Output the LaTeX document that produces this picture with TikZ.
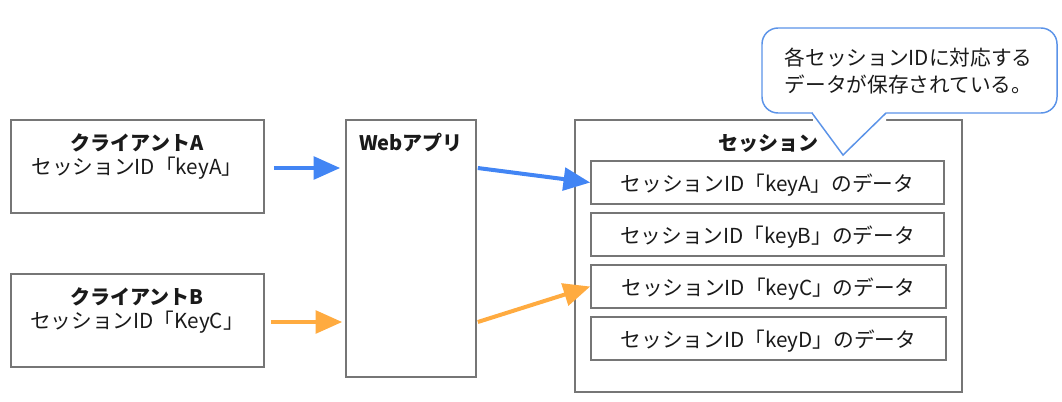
\documentclass[tikz,border=0pt]{standalone}
\usepackage{fontspec}
\setmainfont{Noto Sans CJK JP}
\usetikzlibrary{arrows.meta,calc}
\definecolor{boxgray}{HTML}{767676}
\definecolor{arrblue}{HTML}{4285F4}
\definecolor{arrorange}{HTML}{FFAB40}
\definecolor{callblue}{HTML}{5B93E8}
\definecolor{txt}{HTML}{1A1A1A}
\begin{document}
\begin{tikzpicture}[x=0.75pt,y=-0.75pt,
  every node/.style={font=\fontsize{15.5pt}{20pt}\selectfont,text=txt},
  frame/.style={draw=boxgray,line width=1.2pt,fill=white,inner sep=0pt},
  ttl/.style={font=\bfseries\fontsize{15pt}{20pt}\selectfont},
  bluearr/.style={draw=arrblue,line width=3pt,-{Triangle[length=20pt,width=17pt]}},
  orangearr/.style={draw=arrorange,line width=3pt,-{Triangle[length=20pt,width=17pt]}},
  callout/.style={draw=callblue,line width=1.1pt,fill=white,rounded corners=12pt}]
\useasboundingbox (0,0) rectangle (1062,401);
% client boxes
\node[frame,minimum width=253*0.75pt,minimum height=93*0.75pt] (clientA) at (137.5,166.5) {};
\node[frame,minimum width=253*0.75pt,minimum height=93*0.75pt] (clientB) at (137.5,320.5) {};
\node[ttl] (clientAt) at (137,143) {クライアントA};
\node (clientAs) at (137,168) {セッションID「keyA」};
\node[ttl] (clientBt) at (137,297) {クライアントB};
\node (clientBs) at (137,322) {セッションID「KeyC」};
% web app
\node[frame,minimum width=130*0.75pt,minimum height=257*0.75pt] (web) at (411,248.5) {};
\node[ttl] (webt) at (411,143) {Webアプリ};
% session
\node[frame,minimum width=387*0.75pt,minimum height=272*0.75pt] (sess) at (768.5,256) {};
\node[ttl] (sesst) at (768,143) {セッション};
\node[frame,minimum width=353*0.75pt,minimum height=43*0.75pt] (kA) at (767.5,182.5) {};
\node[frame,minimum width=353*0.75pt,minimum height=43*0.75pt] (kB) at (767.5,234.5) {};
\node[frame,minimum width=355*0.75pt,minimum height=43*0.75pt] (kC) at (768.5,286.5) {};
\node[frame,minimum width=355*0.75pt,minimum height=43*0.75pt] (kD) at (768.5,338.5) {};
\node[yshift=-2.5*0.75pt] (kAt) at (kA) {セッションID「keyA」のデータ};
\node[yshift=-2.5*0.75pt] (kBt) at (kB) {セッションID「keyB」のデータ};
\node[yshift=-2.5*0.75pt] (kCt) at (kC) {セッションID「keyC」のデータ};
\node[yshift=-2.5*0.75pt] (kDt) at (kD) {セッションID「keyD」のデータ};
% arrows
\draw[bluearr] ([xshift=9pt*0.75]clientA.east |- clientAs) -- ([xshift=-5*0.75pt]web.west |- clientAs);
\draw[bluearr] ([xshift=1*0.75pt]web.east |- clientAs) -- (kA.west);
\draw[orangearr] ([xshift=6*0.75pt]clientB.east |- clientBs) -- ([xshift=-3*0.75pt]web.west |- clientBs);
\draw[orangearr] ([xshift=1*0.75pt]web.east |- clientBs) -- (kC.west);
% callout
\node[callout,minimum width=295*0.75pt,minimum height=85*0.75pt,inner sep=0pt] (call) at (909.5,70.5) {};
\fill[white] (813,111) -- (886,111) -- (886,122) -- (843,154) -- (813,122) -- cycle;
\draw[callblue,line width=1.1pt,line join=miter] (812,113) -- (843,155) -- (886,113);
\node[align=left,anchor=west] (callt) at (780,71) {各セッションIDに対応する\\データが保存されている。};
\end{tikzpicture}
\end{document}
